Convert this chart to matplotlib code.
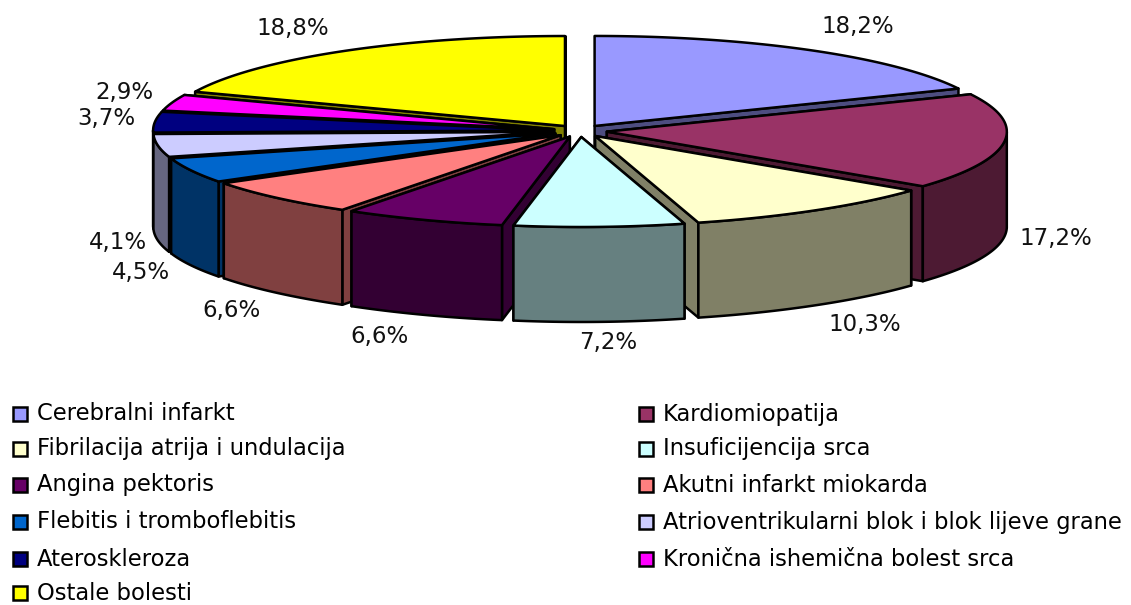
import numpy as np
import matplotlib
matplotlib.use('Agg')
import matplotlib.pyplot as plt
from matplotlib.colors import to_rgb
from matplotlib.patches import Polygon, Rectangle

categories = ['Cerebralni infarkt', 'Kardiomiopatija', 'Fibrilacija atrija i undulacija',
              'Insuficijencija srca', 'Angina pektoris', 'Akutni infarkt miokarda',
              'Flebitis i tromboflebitis', 'Atrioventrikularni blok i blok lijeve grane',
              'Ateroskleroza', 'Kronična ishemična bolest srca', 'Ostale bolesti']
values = [18.2, 17.2, 10.3, 7.2, 6.6, 6.6, 4.5, 4.1, 3.7, 2.9, 18.8]
colors = ['#9999FF', '#993366', '#FFFFCC', '#CCFFFF', '#660066', '#FF8080',
          '#0066CC', '#CCCCFF', '#000080', '#FF00FF', '#FFFF00']

plt.rcParams['font.family'] = ['DejaVu Sans']

# geometry of the tilted pie, in pixels
cx, cy = 580, 131
rx, ry = 400, 90
ex, ey = 27, 6
depth = 95
lw = 1.8

# where the percent labels sit (centre of text)
label_pos = [(858, 27), (1056, 239), (865, 325), (608, 342), (379, 336), (231, 311),
             (141, 272), (118, 242), (106, 119), (124, 93), (293, 28)]

fig = plt.figure(figsize=(11.31, 6.05), dpi=100)
ax = fig.add_axes([0, 0, 1, 1])
ax.set_xlim(0, 1131)
ax.set_ylim(605, 0)
ax.axis('off')

edges = np.cumsum([0] + values) / sum(values) * 2 * np.pi
mids = (edges[:-1] + edges[1:]) / 2


def rim(ox, oy, a):
    # the original narrows a bit towards the front
    c = np.minimum(np.cos(a), 0)
    return ox + rx * np.sin(a) * (1 - 0.05 * c ** 4), oy - ry * np.cos(a)


# back slices first
order = np.argsort(-np.cos(mids))
for z, i in enumerate(order):
    a0, a1 = edges[i], edges[i + 1]
    ox = cx + ex * np.sin(mids[i])
    oy = cy - ey * np.cos(mids[i])
    top = colors[i]
    side = tuple(c * 0.5 for c in to_rgb(top))

    t = np.linspace(a0, a1, 80)
    rim_x, rim_y = rim(ox, oy, t)

    def face(pts, col):
        ax.add_patch(Polygon(pts, closed=True, facecolor=col, edgecolor='black',
                             linewidth=lw, joinstyle='round', zorder=z + 1))

    # the two cut faces, hidden one first
    for a in ((a0, a1) if mids[i] < np.pi else (a1, a0)):
        x, y = rim(ox, oy, a)
        face([(ox, oy), (x, y), (x, y + depth), (ox, oy + depth)], side)

    # outer wall, only the part that faces the viewer
    front = np.cos(t) <= 0
    if front.sum() > 1:
        wx, wy = rim_x[front], rim_y[front]
        pts = list(zip(wx, wy)) + list(zip(wx[::-1], wy[::-1] + depth))
        face(pts, side)

    face([(ox, oy)] + list(zip(rim_x, rim_y)), top)

for v, (x, y) in zip(values, label_pos):
    ax.text(x, y, f'{v:.1f}%'.replace('.', ','), fontsize=16.5, color='#111111',
            ha='center', va='center', zorder=50)

# legend, two columns filled row by row
col_x = [13, 639]
row_y = [414, 449, 485, 522, 559, 593]
for i, name in enumerate(categories):
    x = col_x[i % 2]
    y = row_y[i // 2]
    ax.add_patch(Rectangle((x, y - 7), 14, 14, facecolor=colors[i], edgecolor='black',
                           linewidth=lw, zorder=50))
    ax.text(x + 24, y, name, fontsize=16.3, color='black', ha='left', va='center', zorder=50)

fig.savefig('out.png', dpi=100)
